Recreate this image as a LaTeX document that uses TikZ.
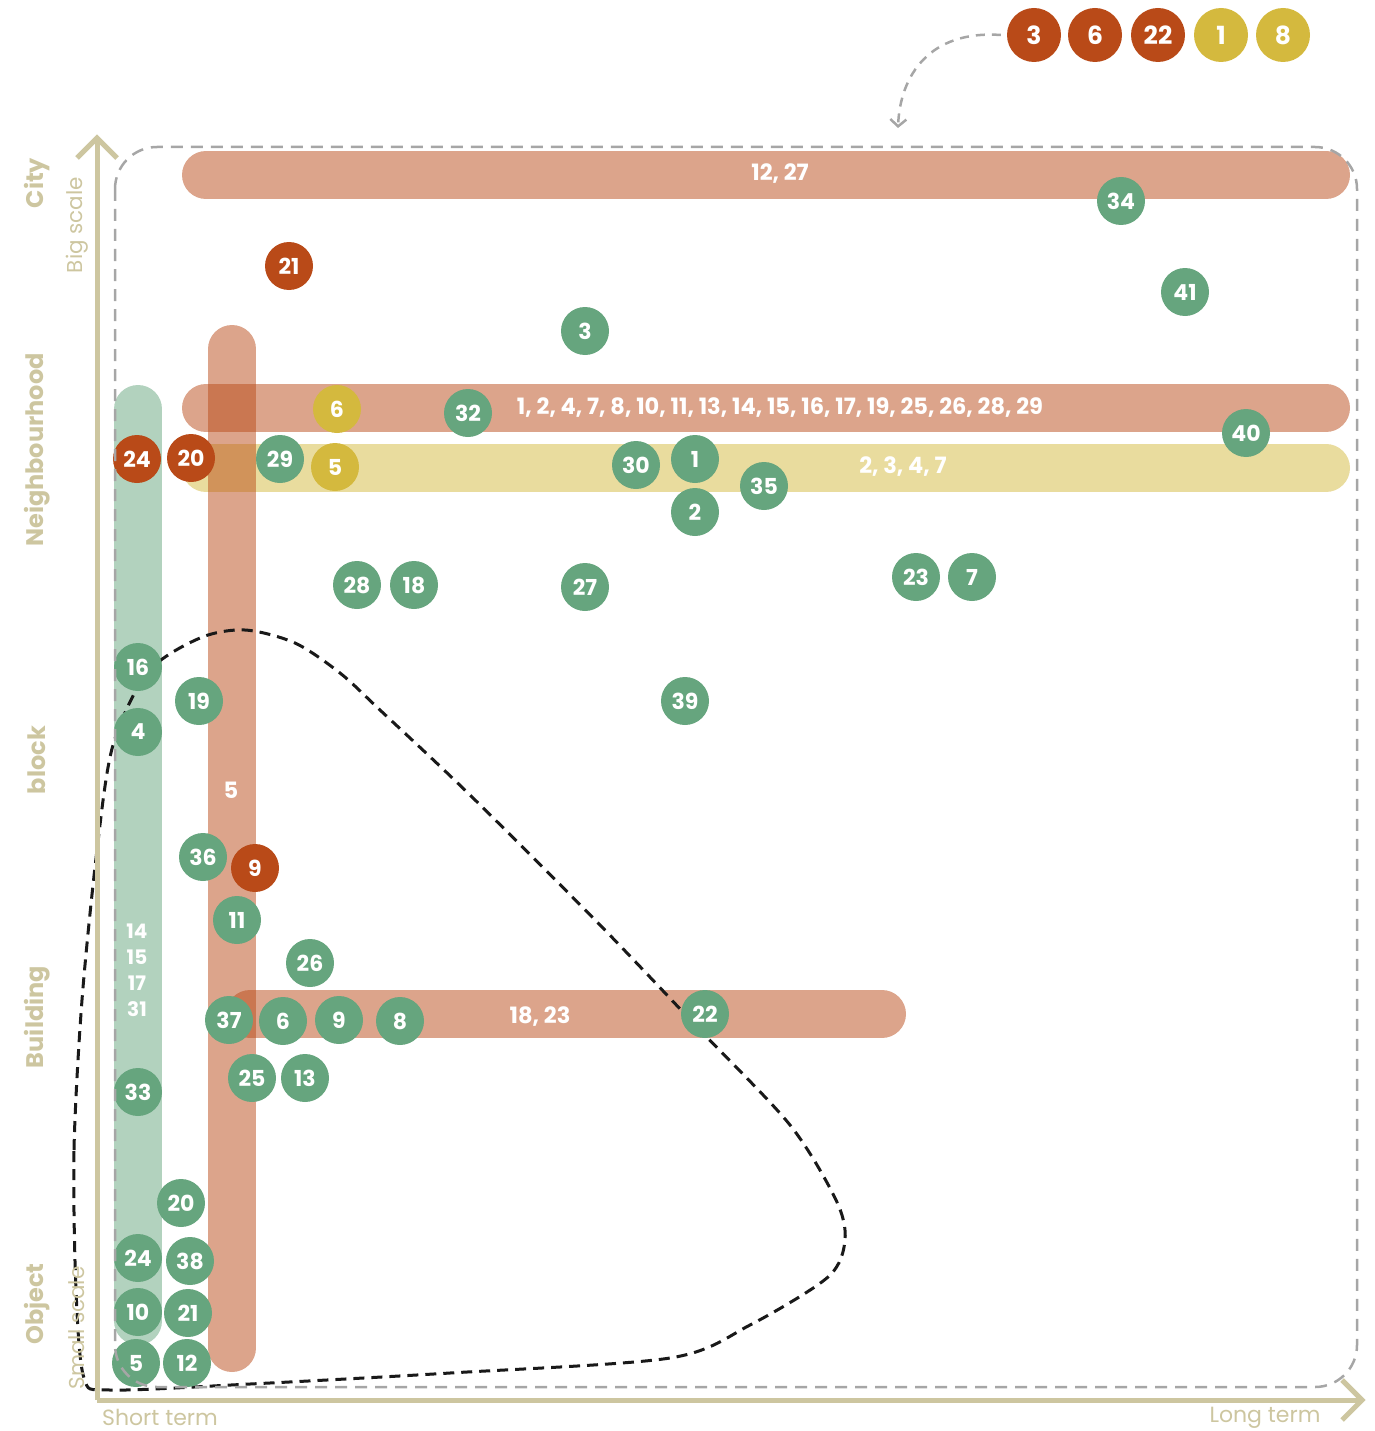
\documentclass[tikz,border=0pt]{standalone}
\usepackage{fontspec}
\setmainfont{Poppins}
\usetikzlibrary{arrows.meta}
\definecolor{cred}{HTML}{B94A18}
\definecolor{cyel}{HTML}{D4B93E}
\definecolor{cgrn}{HTML}{66A57E}
\definecolor{cax}{HTML}{CDC6A0}
\definecolor{cgray}{HTML}{A6A6A6}
\tikzset{
 dot/.style={circle, minimum size=48pt, inner sep=0pt, text=white, font=\bfseries\fontsize{22}{22}\selectfont},
 gdot/.style={dot, fill=cgrn},
 rdot/.style={dot, fill=cred},
 ydot/.style={dot, fill=cyel},
 bigdot/.style={minimum size=54pt, font=\bfseries\fontsize{25}{25}\selectfont},
 bar/.style={line width=48pt, line cap=round, draw opacity=0.5},
 barlabel/.style={text=white, inner sep=0pt, font=\bfseries\fontsize{22.5}{22.5}\selectfont},
 axlabel/.style={rotate=90, text=cax, font=\bfseries\fontsize{24}{24}\selectfont},
 axsub/.style={rotate=90, text=cax, font=\fontsize{21.5}{21.5}\selectfont},
 axterm/.style={text=cax, font=\fontsize{22}{22}\selectfont},
 axline/.style={draw=cax, line width=5pt},
 chev/.style={draw=cax, line width=5pt, line cap=butt},
}
\begin{document}
\begin{tikzpicture}[x=1pt,y=-1pt]
\useasboundingbox (0,0) rectangle (1374,1431);
% bars
\draw[bar, cred] (206,175) -- (1326,175);
\draw[bar, cred] (206,408) -- (1326,408);
\draw[bar, cyel] (206,468) -- (1326,468);
\draw[bar, cgrn] (138,409) -- (138,1321);
\draw[bar, cred] (232,349) -- (232,1348);
\draw[bar, cred] (250,1014) -- (882,1014);
\node[barlabel] (l1227) at (780,174) {12, 27};
\node[barlabel] (lnb) at (780,408) {1, 2, 4, 7, 8, 10, 11, 13, 14, 15, 16, 17, 19, 25, 26, 28, 29};
\node[barlabel] (lye) at (903,467) {2, 3, 4, 7};
\node[barlabel] (l5) at (231,790) {5};
\node[barlabel, align=center, font=\bfseries\fontsize{20}{26}\selectfont] (lgr) at (137,970) {14\\15\\17\\31};
\node[barlabel] (l1823) at (540,1017) {18, 23};
% black dashed region
\draw[black!90, line width=3pt, dash pattern=on 11pt off 7pt]
  plot[smooth cycle, tension=0.5] coordinates {
  (76,1290) (74,1150) (82,1000) (97,850) (113,745) (148,672) (200,638) (245,630) (295,643) (340,673)
  (380,710) (470,795) (600,925) (700,1030) (790,1125) (836,1200) (845,1240) (828,1277) (750,1325) (670,1358)
  (450,1373) (250,1384) (110,1390) (84,1378)};
% circles
\node[gdot] (g34) at (1121,201) {34};
\node[rdot] (r21) at (289,266) {21};
\node[gdot] (g41) at (1185,292) {41};
\node[gdot] (g3) at (585,331) {3};
\node[ydot] (y6) at (337,409) {6};
\node[gdot] (g32) at (468,413) {32};
\node[gdot] (g40) at (1246,433) {40};
\node[rdot] (r24) at (137,459) {24};
\node[rdot] (r20) at (191,458) {20};
\node[gdot] (g29) at (280,459) {29};
\node[ydot] (y5) at (335,467) {5};
\node[gdot] (g30) at (636,465) {30};
\node[gdot] (g1) at (695,459) {1};
\node[gdot] (g35) at (764,486) {35};
\node[gdot] (g2) at (695,512) {2};
\node[gdot] (g28) at (357,585) {28};
\node[gdot] (g18) at (414,585) {18};
\node[gdot] (g27) at (585,587) {27};
\node[gdot] (g23) at (916,577) {23};
\node[gdot] (g7) at (972,577) {7};
\node[gdot] (g16) at (138,667) {16};
\node[gdot] (g19) at (199,701) {19};
\node[gdot] (g4) at (138,732) {4};
\node[gdot] (g39) at (685,701) {39};
\node[gdot] (g36) at (203,857) {36};
\node[rdot] (r9) at (255,868) {9};
\node[gdot] (g11) at (237,920) {11};
\node[gdot] (g26) at (310,963) {26};
\node[gdot] (g37) at (229,1020) {37};
\node[gdot] (g6) at (283,1021) {6};
\node[gdot] (g9) at (339,1020) {9};
\node[gdot] (g8) at (400,1021) {8};
\node[gdot] (g22) at (705,1014) {22};
\node[gdot] (g25) at (252,1078) {25};
\node[gdot] (g13) at (305,1078) {13};
\node[gdot] (g33) at (138,1092) {33};
\node[gdot] (g20) at (181,1203) {20};
\node[gdot] (g24) at (138,1258) {24};
\node[gdot] (g38) at (190,1261) {38};
\node[gdot] (g10) at (138,1312) {10};
\node[gdot] (g21) at (188,1313) {21};
\node[gdot] (g5) at (136,1363) {5};
\node[gdot] (g12) at (187,1363) {12};
% legend
\node[rdot, bigdot] (k3) at (1034,35) {3};
\node[rdot, bigdot] (k6) at (1095,35) {6};
\node[rdot, bigdot] (k22) at (1158,35) {22};
\node[ydot, bigdot] (k1) at (1221,35) {1};
\node[ydot, bigdot] (k8) at (1283,35) {8};
\coordinate (arrEnd) at (898,128);
\draw[cgray, line width=2.5pt, dash pattern=on 9pt off 7pt, -{Straight Barb[length=7pt,width=16pt,line width=2.5pt]}]
  ([xshift=-6pt]k3.west) .. controls (930,30) and (900,75) .. (arrEnd);
% gray dashed rounded frame
\draw[cgray, line width=2.5pt, dash pattern=on 12pt off 8pt, rounded corners=42pt]
  (115,147) rectangle (1357,1387);
% axes
\coordinate (o) at (97,1400);
\coordinate (ytop) at (97,138);
\coordinate (xend) at (1362,1400);
\draw[axline] (o) -- (ytop);
\draw[axline] (o) -- (xend);
\draw[chev, line join=miter] (77,158) -- (ytop) -- (117,158);
\draw[chev, line join=miter] (1342,1380) -- (xend) -- (1342,1420);
% axis labels
\node[axlabel] (aCity) at (37,183) {City};
\node[axlabel] (aNb) at (37,450) {Neighbourhood};
\node[axlabel] (aBl) at (37,760) {block};
\node[axlabel] (aBu) at (37,1017) {Building};
\node[axlabel] (aOb) at (37,1304) {Object};
\node[axsub] (aBig) at (77,225) {Big scale};
\node[axsub] (aSm) at (77,1328) {Small scale};
\node[axterm] (aSh) at (160,1417) {Short term};
\node[axterm] (aLo) at (1265,1418) {Long term};
\end{tikzpicture}
\end{document}
